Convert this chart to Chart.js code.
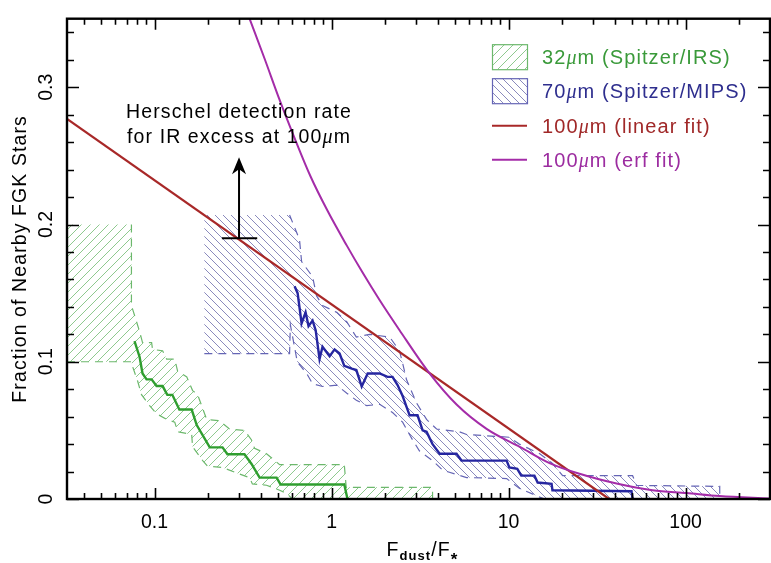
<!DOCTYPE html>
<html><head><meta charset="utf-8">
<script src="https://cdn.jsdelivr.net/npm/chart.js@4/dist/chart.umd.min.js"></script>
<style>html,body{margin:0;padding:0;background:#fff}canvas{display:block}</style>
</head><body>
<canvas id="c" width="771" height="563"></canvas>
<script>
// ---------- axis ranges & ticks ----------
const xMin = 0.032, xMax = 300, yMin = 0, yMax = 0.35;
const xTickLabels = ['0.1', '1', '10', '100'];
const xMajorTicks = [0.1, 1, 10, 100];
const xMinorTicks = [0.04,0.05,0.06,0.07,0.08,0.09,0.2,0.3,0.4,0.5,0.6,0.7,0.8,0.9,2,3,4,5,6,7,8,9,20,30,40,50,60,70,80,90,200];
const yTickLabels = ['0', '0.1', '0.2', '0.3'];
const yMajorTicks = [0, 0.1, 0.2, 0.3];
const yMinorTicks = [0.02,0.04,0.06,0.08,0.12,0.14,0.16,0.18,0.22,0.24,0.26,0.28,0.32,0.34];

// ---------- 32um (Spitzer/IRS) ----------
const irsX = [0.077,0.0823,0.0855,0.0901,0.0962,0.1026,0.111,0.118,0.126,0.138,0.162,0.173,0.205,0.242,0.258,0.322,0.353,0.392,0.489,0.515,1.18,1.23];
const irsY = [0.115,0.1035,0.0915,0.0872,0.0872,0.0823,0.0823,0.0759,0.0759,0.0652,0.0652,0.0539,0.0376,0.0376,0.0326,0.0326,0.0255,0.0156,0.0156,0.0106,0.0106,0];
const irsUpperX = [0.032,0.074,0.074,0.0823,0.0855,0.0962,0.0974,0.111,0.117,0.130,0.135,0.152,0.164,0.175,0.197,0.233,0.265,0.322,0.353,0.367,0.429,0.509,1.18,1.21,3.72,3.72];
const irsUpperY = [0.2,0.2,0.141,0.122,0.114,0.114,0.109,0.108,0.102,0.102,0.093,0.089,0.079,0.076,0.058,0.057,0.051,0.050,0.043,0.037,0.033,0.025,0.025,0.0085,0.0085,0];
const irsLowerX = [0.032,0.074,0.0751,0.0802,0.0844,0.0937,0.103,0.117,0.130,0.135,0.162,0.164,0.187,0.199,0.242,0.290,0.344,0.357,0.429,0.509,0.56,0.6,3.72];
const irsLowerY = [0.1,0.1,0.0965,0.086,0.076,0.068,0.062,0.058,0.056,0.049,0.047,0.038,0.028,0.024,0.023,0.019,0.0156,0.011,0.010,0.0064,0.004,0,0];

// ---------- 70um (Spitzer/MIPS) ----------
const mipsX = [0.618,0.643,0.677,0.713,0.741,0.781,0.813,0.855,0.889,0.975,1.04,1.11,1.18,1.30,1.38,1.48,1.60,1.87,2.07,2.21,2.36,2.52,2.76,3.06,3.27,3.44,3.72,4.08,5.08,5.42,9.75,10.1,11.2,11.8,14.0,14.6,17.5,17.7,49.5,50.2];
const mipsY = [0.155,0.150,0.128,0.136,0.126,0.130,0.123,0.102,0.111,0.104,0.109,0.106,0.097,0.095,0.094,0.082,0.0915,0.0915,0.089,0.089,0.083,0.075,0.061,0.061,0.050,0.049,0.040,0.033,0.033,0.028,0.028,0.023,0.022,0.017,0.017,0.012,0.011,0.0064,0.0057,0];
const mipsUpperX = [0.191,0.579,0.659,0.677,0.781,0.823,0.889,1.07,1.22,1.38,1.64,2.13,2.42,2.52,2.65,3.02,3.44,3.92,5.28,5.79,10.1,11.5,15.0,17.7,20.2,50.2,52.9,156,156];
const mipsUpperY = [0.207,0.207,0.189,0.173,0.162,0.148,0.141,0.136,0.129,0.118,0.120,0.118,0.108,0.099,0.087,0.070,0.058,0.051,0.049,0.047,0.045,0.040,0.033,0.026,0.017,0.017,0.0099,0.0092,0];
const mipsLowerX = [0.191,0.579,0.585,0.64,0.723,0.781,0.889,1.07,1.22,1.38,1.58,1.87,2.21,2.52,2.87,3.14,3.72,4.24,5.79,9.75,11.5,15.0,16.0,156];
const mipsLowerY = [0.106,0.106,0.127,0.100,0.0915,0.084,0.082,0.083,0.077,0.072,0.068,0.069,0.063,0.056,0.043,0.035,0.028,0.021,0.0156,0.0149,0.0078,0.0014,0,0];

// ---------- 100um fits ----------
const linFitX = [0.032, 37];
const linFitY = [0.277, 0];
const erfFitX = [0.344,0.418,0.508,0.618,0.761,0.949,1.215,1.497,1.867,2.422,3.579,5.085,7.511,12.0,17.04,25.18,40.75,65.1,101.3,155.6,298];
const erfFitY = [0.350,0.321,0.291,0.263,0.235,0.210,0.185,0.165,0.145,0.123,0.0915,0.0688,0.0511,0.0369,0.0262,0.0184,0.0113,0.0064,0.0043,0.0021,0.0004];

// ---------- Herschel lower limit annotation ----------
const limitX = 0.30, limitY = 0.19, limitBarX = [0.24, 0.38], arrowTipY = 0.249;
const noteLines = ['Herschel detection rate', 'for IR excess at 100'];
const noteY = [0.278, 0.2595];

const seriesNames = ['32', '70', '100', '100'];

const pts = (xs, ys) => xs.map((v, i) => ({x: v, y: ys[i]}));

const C = {
  green: '#2f9e2f', greenHatch: '#8fc98f', greenDash: '#6cb86c', greenText: '#3a9a3a',
  blue: '#2626a0', blueHatch: '#8a8abd', blueDash: '#6565b5', blueText: '#2e2e8e',
  red: '#a82828', purple: '#a42ca8', redText: '#a02828', purpleText: '#9c2ca0'
};

function makeHatch(color, size, dir) {
  const c = document.createElement('canvas'); c.width = c.height = size;
  const g = c.getContext('2d'); g.strokeStyle = color; g.lineWidth = 1;
  g.beginPath();
  if (dir > 0) {
    g.moveTo(-1, size + 1); g.lineTo(size + 1, -1);
    g.moveTo(-2, 2); g.lineTo(2, -2);
    g.moveTo(size - 2, size + 2); g.lineTo(size + 2, size - 2);
  } else {
    g.moveTo(-1, -1); g.lineTo(size + 1, size + 1);
    g.moveTo(size - 2, -2); g.lineTo(size + 2, 2);
    g.moveTo(-2, size - 2); g.lineTo(2, size + 2);
  }
  g.stroke();
  return document.getElementById('c').getContext('2d').createPattern(c, 'repeat');
}
const greenPattern = makeHatch(C.greenHatch, 9, 1);
const bluePattern = makeHatch(C.blueHatch, 8, -1);

const bands = [
  {ux: irsUpperX, uy: irsUpperY, lx: irsLowerX, ly: irsLowerY, pattern: greenPattern},
  {ux: mipsUpperX, uy: mipsUpperY, lx: mipsLowerX, ly: mipsLowerY, pattern: bluePattern}
];

function hideEdge(ctx) {
  const a = ctx.p0.parsed, b = ctx.p1.parsed;
  if (a.y === b.y && (a.y >= 0.19 || a.y === 0)) return 'rgba(0,0,0,0)';
  return undefined;
}

const bandFill = {
  id: 'bandFill',
  beforeDatasetsDraw(chart) {
    const {ctx, chartArea: a, scales: {x, y}} = chart;
    ctx.save();
    ctx.beginPath(); ctx.rect(a.left, a.top, a.width, a.height); ctx.clip();
    bands.forEach(b => {
      ctx.beginPath();
      b.ux.forEach((v, i) => {
        const px = x.getPixelForValue(v), py = y.getPixelForValue(b.uy[i]);
        i ? ctx.lineTo(px, py) : ctx.moveTo(px, py);
      });
      for (let i = b.lx.length - 1; i >= 0; i--) ctx.lineTo(x.getPixelForValue(b.lx[i]), y.getPixelForValue(b.ly[i]));
      ctx.closePath();
      ctx.fillStyle = b.pattern; ctx.fill();
    });
    ctx.restore();
  }
};

const frameTicks = {
  id: 'frameTicks',
  afterDatasetsDraw(chart) {
    const {ctx, chartArea: a, scales: {x, y}} = chart;
    ctx.save();
    ctx.strokeStyle = '#000';
    ctx.lineWidth = 1.6;
    ctx.beginPath();
    const tx = (v, len) => { const p = Math.round(x.getPixelForValue(v)) + 0.5;
      ctx.moveTo(p, a.bottom); ctx.lineTo(p, a.bottom - len); ctx.moveTo(p, a.top); ctx.lineTo(p, a.top + len); };
    const ty = (v, len) => { const p = Math.round(y.getPixelForValue(v)) + 0.5;
      ctx.moveTo(a.left, p); ctx.lineTo(a.left + len, p); ctx.moveTo(a.right, p); ctx.lineTo(a.right - len, p); };
    xMajorTicks.forEach(v => tx(v, 11));
    xMinorTicks.forEach(v => tx(v, 6));
    yMajorTicks.forEach(v => ty(v, 12));
    yMinorTicks.forEach(v => ty(v, 7));
    ctx.stroke();
    ctx.lineWidth = 2.4;
    ctx.strokeRect(a.left, a.top, a.width, a.height);
    ctx.restore();
  }
};

const SANS = '"Liberation Sans", Arial, sans-serif';
function drawParts(ctx, parts, x, y, align) {
  let total = 0;
  parts.forEach(p => { ctx.font = p.font; p.w = ctx.measureText(p.t).width + (p.gap || 0); total += p.w; });
  let cx = align === 'center' ? x - total / 2 : x;
  ctx.textAlign = 'left';
  parts.forEach(p => { ctx.font = p.font; ctx.fillText(p.t, cx, y + (p.dy || 0)); cx += p.w; });
}
const base = `19.5px ${SANS}`;
const legendFont = `20px ${SANS}`;
const mu = `italic 20px "Liberation Serif", serif`;

const texts = {
  id: 'texts',
  afterDraw(chart) {
    const {ctx, chartArea: a, scales: {x, y}} = chart;
    ctx.save();
    ctx.letterSpacing = '1.1px';
    ctx.fillStyle = '#000';
    ctx.textBaseline = 'alphabetic';
    // y title
    ctx.save();
    ctx.translate(21, (a.top + a.bottom) / 2);
    ctx.rotate(-Math.PI / 2);
    ctx.textBaseline = 'middle';
    drawParts(ctx, [{t: 'Fraction of Nearby FGK Stars', font: base}], 0, 0, 'center');
    ctx.restore();
    // x title
    drawParts(ctx, [
      {t: 'F', font: base},
      {t: 'dust', font: `bold 13px ${SANS}`, dy: 4},
      {t: '/', font: base},
      {t: 'F', font: base},
      {t: '*', font: `bold 17px ${SANS}`, dy: 9}
    ], (a.left + a.right) / 2 + 4, 556, 'center');

    // annotation
    const ax = x.getPixelForValue(limitX);
    drawParts(ctx, [{t: noteLines[0], font: base}], ax, y.getPixelForValue(noteY[0]), 'center');
    drawParts(ctx, [{t: noteLines[1], font: base}, {t: 'μ', font: mu}, {t: 'm', font: base}], ax, y.getPixelForValue(noteY[1]), 'center');
    const tipY = y.getPixelForValue(arrowTipY);
    ctx.beginPath();
    ctx.moveTo(ax, tipY);
    ctx.lineTo(ax + 7, tipY + 17);
    ctx.lineTo(ax, tipY + 12);
    ctx.lineTo(ax - 7, tipY + 17);
    ctx.closePath();
    ctx.fill();

    // legend
    const lx = a.right - 278, tx = a.right - 228;
    const rows = [a.top + 38, a.top + 72, a.top + 107, a.top + 141];
    const boxes = [[greenPattern, C.greenDash], [bluePattern, C.blueDash]];
    boxes.forEach((b, i) => {
      ctx.fillStyle = b[0];
      ctx.fillRect(lx, rows[i] - 12.5, 35, 25);
      ctx.strokeStyle = b[1]; ctx.lineWidth = 1.2;
      ctx.strokeRect(lx + 0.5, rows[i] - 12, 35, 25);
    });
    [[C.red, 2], [C.purple, 3]].forEach(([col, i]) => {
      ctx.strokeStyle = col; ctx.lineWidth = 2;
      ctx.beginPath(); ctx.moveTo(lx, rows[i]); ctx.lineTo(lx + 35, rows[i]); ctx.stroke();
    });
    const labels = [
      [C.greenText, seriesNames[0], ' (Spitzer/IRS)'],
      [C.blueText, seriesNames[1], ' (Spitzer/MIPS)'],
      [C.redText, seriesNames[2], ' (linear fit)'],
      [C.purpleText, seriesNames[3], ' (erf fit)']
    ];
    labels.forEach((l, i) => {
      ctx.fillStyle = l[0];
      drawParts(ctx, [{t: l[1], font: legendFont}, {t: 'μ', font: mu}, {t: 'm' + l[2], font: legendFont}], tx, rows[i] + 7, 'left');
    });
    ctx.restore();
  }
};

const line = (label, xs, ys, color, width, extra) => Object.assign({
  label, data: pts(xs, ys), showLine: true, borderColor: color, borderWidth: width,
  pointRadius: 0, fill: false
}, extra || {});

const datasets = [
  line('Herschel limit bar', limitBarX, [limitY, limitY], '#000', 2),
  line('Herschel limit arrow', [limitX, limitX], [limitY, arrowTipY - 0.008], '#000', 2),
  line('100um (erf fit)', erfFitX, erfFitY, C.purple, 2, {cubicInterpolationMode: 'monotone'}),
  line('100um (linear fit)', linFitX, linFitY, C.red, 2.2),
  line('70um (Spitzer/MIPS)', mipsX, mipsY, C.blue, 2.4),
  line('32um (Spitzer/IRS)', irsX, irsY, C.green, 2.4),
  line('70um upper', mipsUpperX, mipsUpperY, C.blueDash, 1.2, {borderDash: [8, 6], segment: {borderColor: hideEdge}}),
  line('70um lower', mipsLowerX, mipsLowerY, C.blueDash, 1.2, {borderDash: [8, 6], segment: {borderColor: hideEdge}}),
  line('32um upper', irsUpperX, irsUpperY, C.greenDash, 1.2, {borderDash: [8, 6], segment: {borderColor: hideEdge}}),
  line('32um lower', irsLowerX, irsLowerY, C.greenDash, 1.2, {borderDash: [8, 6], segment: {borderColor: hideEdge}})
];

new Chart(document.getElementById('c'), {
  type: 'scatter',
  data: {datasets},
  options: {
    responsive: false, animation: false, devicePixelRatio: 1,
    layout: {padding: {left: 0, right: 1, top: 5, bottom: 0}},
    plugins: {legend: {display: false}, tooltip: {enabled: false}},
    scales: {
      x: {
        type: 'logarithmic', min: xMin, max: xMax, position: 'bottom',
        grid: {display: false, drawTicks: false}, border: {display: false},
        afterBuildTicks: s => { s.ticks = xMajorTicks.map(v => ({value: v})); },
        ticks: {
          autoSkip: false, maxRotation: 0, minRotation: 0, padding: 12, color: '#000',
          font: {family: 'Liberation Sans', size: 19.5},
          callback: (v) => { const i = xMajorTicks.findIndex(t => Math.abs(t - v) / t < 1e-6); return i >= 0 ? xTickLabels[i] : ''; }
        },
        afterFit: s => { s.height = 64; }
      },
      y: {
        type: 'linear', min: yMin, max: yMax,
        grid: {display: false, drawTicks: false}, border: {display: false},
        afterBuildTicks: s => { s.ticks = yMajorTicks.map(v => ({value: v})); },
        ticks: {
          autoSkip: false, minRotation: 90, maxRotation: 90, crossAlign: 'center', padding: 7, color: '#000',
          font: {family: 'Liberation Sans', size: 19.5},
          callback: (v) => { const i = yMajorTicks.findIndex(t => Math.abs(t - v) < 1e-9); return i >= 0 ? yTickLabels[i] : ''; }
        },
        afterFit: s => { s.width = 67; }
      }
    }
  },
  plugins: [bandFill, frameTicks, texts]
});
</script>
</body></html>
